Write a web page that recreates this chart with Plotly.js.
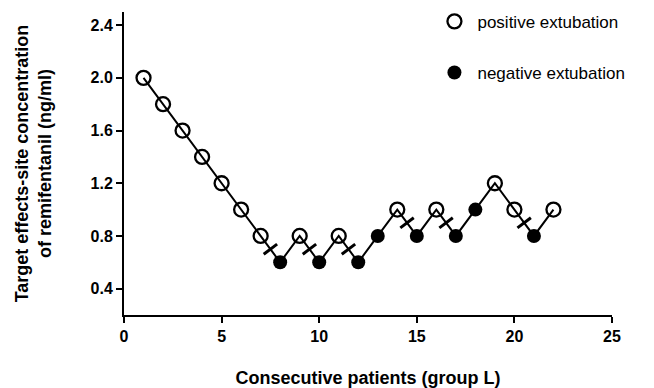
<!DOCTYPE html>
<html>
<head>
<meta charset="utf-8">
<script src="https://cdn.plot.ly/plotly-3.0.1.min.js"></script>
<style>html,body{margin:0;padding:0;background:#fff}#chart{width:654px;height:388px}</style>
</head>
<body>
<div id="chart"></div>
<script>
// Data
const patients = [1,2,3,4,5,6,7,8,9,10,11,12,13,14,15,16,17,18,19,20,21,22];
const concentration = [2.0,1.8,1.6,1.4,1.2,1.0,0.8,0.6,0.8,0.6,0.8,0.6,0.8,1.0,0.8,1.0,0.8,1.0,1.2,1.0,0.8,1.0];
const outcome = ['P','P','P','P','P','P','P','N','P','N','P','N','N','P','N','P','N','N','P','P','N','P'];
// crossover midpoints (positive -> negative)
const crossX = [7.5, 9.5, 11.5, 14.5, 16.5, 20.5];
const crossY = [0.7, 0.7, 0.7, 0.9, 0.9, 0.9];
const xTicks = [0,5,10,15,20,25];
const yTicks = [0.4,0.8,1.2,1.6,2.0,2.4];

const posX = [], posY = [], negX = [], negY = [];
patients.forEach((p,i)=>{
  if (outcome[i]==='P'){posX.push(p);posY.push(concentration[i]);}
  else {negX.push(p);negY.push(concentration[i]);}
});

const font = 'Liberation Sans, Arial, sans-serif';
const traces = [
  {x: patients, y: concentration, mode:'lines', line:{color:'#000', width:2}, showlegend:false, hoverinfo:'skip'},
  {x: crossX, y: crossY, mode:'markers', showlegend:false,
   marker:{symbol:'line-ew', size:12, angle:-37, line:{color:'#000', width:3}}},
  {x: posX, y: posY, mode:'markers', name:'positive extubation', legendgroup:'a',
   marker:{symbol:'circle-open', size:14, color:'#000', line:{color:'#000', width:2.3}}},
  {x: negX, y: negY, mode:'markers', name:'negative extubation', legendgroup:'b',
   marker:{symbol:'circle', size:14, color:'#000', line:{color:'#000', width:0}}}
];

const layout = {
  width:654, height:388,
  margin:{l:124, r:42, t:12, b:73, autoexpand:false},
  paper_bgcolor:'#fff', plot_bgcolor:'#fff',
  font:{family:font, color:'#000'},
  showlegend:true,
  legend:{x:0.63, y:1.027, xanchor:'left', yanchor:'top', traceorder:'grouped', tracegroupgap:26, itemwidth:36,
          font:{family:font, size:17, color:'#000'}, bgcolor:'rgba(0,0,0,0)'},
  xaxis:{range:[0,25], tickvals:xTicks, ticktext:xTicks.map(String), showgrid:false, zeroline:false, automargin:false,
         showline:true, linecolor:'#000', linewidth:2, ticks:'outside', ticklen:6, tickwidth:2, tickcolor:'#000',
         tickfont:{family:font, size:16, weight:'bold'},
         title:{text:'<b>Consecutive patients (group L)</b>', font:{family:font, size:18}, standoff:27}},
  yaxis:{range:[0.2,2.5], tickvals:yTicks, ticktext:yTicks.map(v=>v.toFixed(1)), showgrid:false, zeroline:false, automargin:false,
         showline:true, linecolor:'#000', linewidth:2, ticks:'outside', ticklen:6, tickwidth:2, tickcolor:'#000',
         tickfont:{family:font, size:16, weight:'bold'},
         title:{text:'<b>Target effects-site concentration<br>of remifentanil (ng/ml)</b>', font:{family:font, size:18}, standoff:34}}
};

Plotly.newPlot('chart', traces, layout, {displayModeBar:false, staticPlot:true});
</script>
</body>
</html>
